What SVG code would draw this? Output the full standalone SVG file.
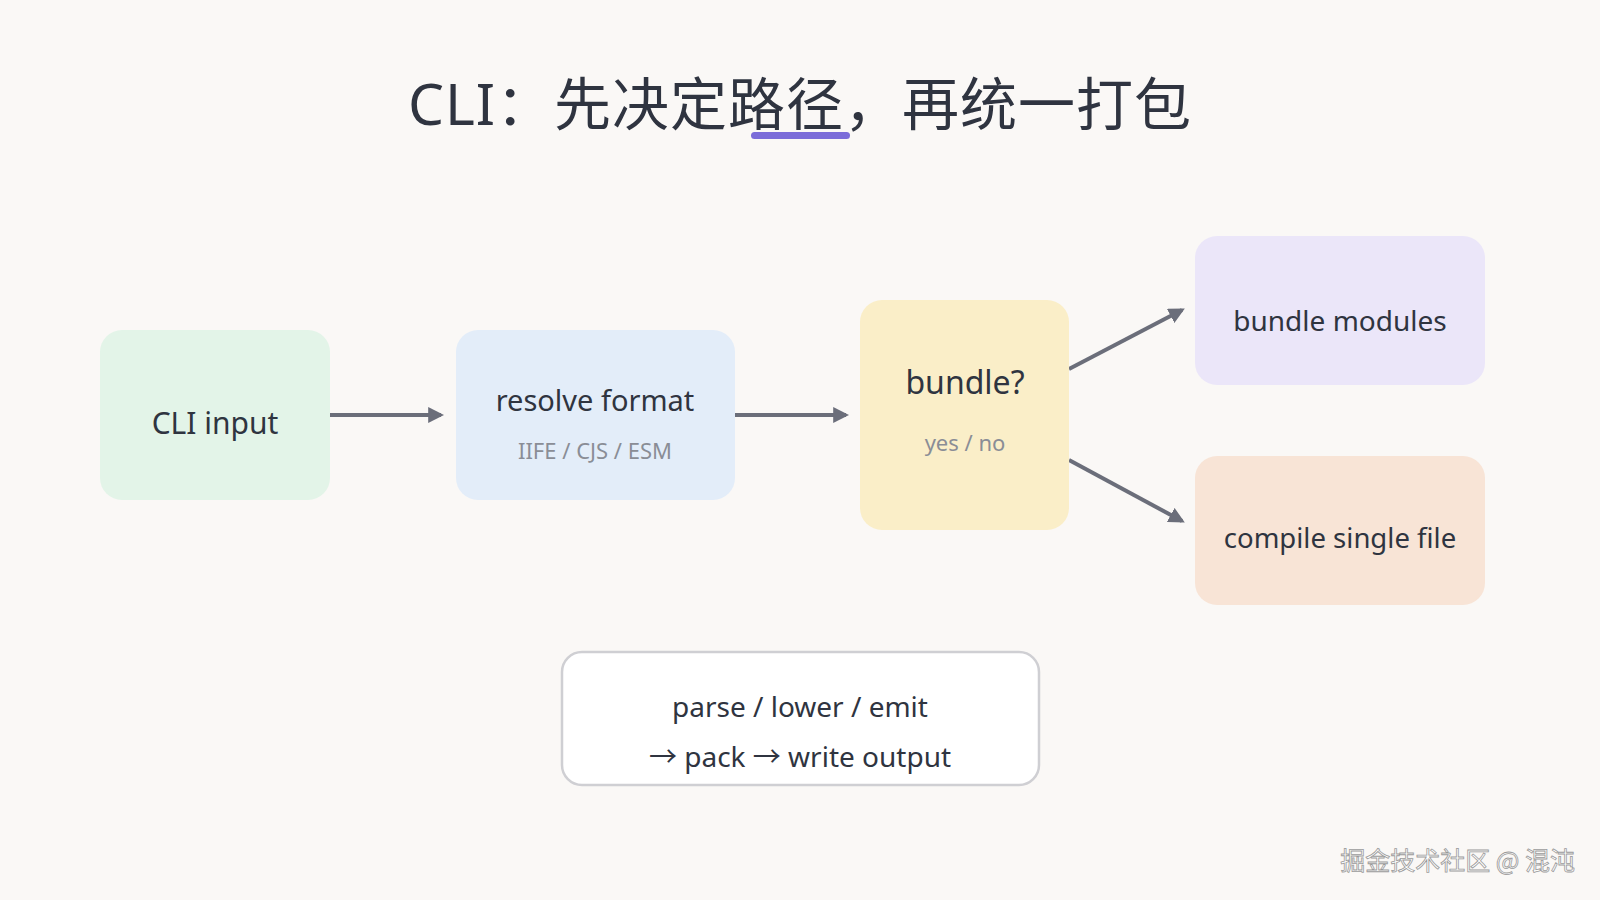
<svg xmlns="http://www.w3.org/2000/svg" width="1600" height="900" viewBox="0 0 1600 900">
<defs>
<style>
.t{font-family:"Noto Sans","Noto Sans CJK SC",sans-serif;fill:#2f3440;text-anchor:middle}
.s{font-family:"Noto Sans",sans-serif;fill:#8a8d96;text-anchor:middle;font-size:22px}
.c{stroke:#6b6e7a;stroke-width:4;fill:none;marker-end:url(#ah)}
</style>
<marker id="ah" viewBox="0 0 10 10" refX="8" refY="5" markerWidth="4" markerHeight="4" orient="auto"><path d="M0,0L10,5L0,10z" fill="#6b6e7a"/></marker>
</defs>
<rect width="1600" height="900" fill="#faf8f6"/>
<g id="title">
<text class="t" x="800" y="125" font-size="57" letter-spacing="1">CLI：先决定路径，再统一打包</text>
<rect x="751" y="132" width="99" height="7" rx="3.5" fill="#7b6cd9"/>
</g>
<g id="connectors">
<line class="c" x1="330" y1="415" x2="441" y2="415"/>
<line class="c" x1="735" y1="415" x2="846" y2="415"/>
<line class="c" x1="1069" y1="369" x2="1182" y2="310"/>
<line class="c" x1="1069" y1="460" x2="1182" y2="521"/>
</g>
<g id="cli"><rect x="100" y="330" width="230" height="170" rx="22" fill="#e3f4e8"/><text class="t" x="215" y="434" font-size="30">CLI input</text></g>
<g id="resolve"><rect x="456" y="330" width="279" height="170" rx="22" fill="#e3edf9"/><text class="t" x="595" y="411" font-size="29">resolve format</text><text class="s" x="595" y="459">IIFE / CJS / ESM</text></g>
<g id="bundleq"><rect x="860" y="300" width="209" height="230" rx="22" fill="#faeec8"/><text class="t" x="965" y="394" font-size="32">bundle?</text><text class="s" x="965" y="451" font-size="25">yes / no</text></g>
<g id="bundlemod"><rect x="1195" y="236" width="290" height="149" rx="22" fill="#ebe6f9"/><text class="t" x="1340" y="331" font-size="28">bundle modules</text></g>
<g id="compile"><rect x="1195" y="456" width="290" height="149" rx="22" fill="#f8e4d6"/><text class="t" x="1340" y="548" font-size="27.5">compile single file</text></g>
<g id="pipeline"><rect x="562" y="652" width="477" height="133" rx="20" fill="#fff" stroke="#cfcfd3" stroke-width="2.5"/><text class="t" x="800" y="717" font-size="28">parse / lower / emit</text><text class="t" x="800" y="767" font-size="28">→ pack → write output</text></g>
<text x="1575" y="870" font-family="Noto Sans CJK SC,sans-serif" font-size="25" fill="#fff" stroke="#9a9a9a" stroke-width="0.8" text-anchor="end">掘金技术社区 @ 混沌</text>
</svg>
